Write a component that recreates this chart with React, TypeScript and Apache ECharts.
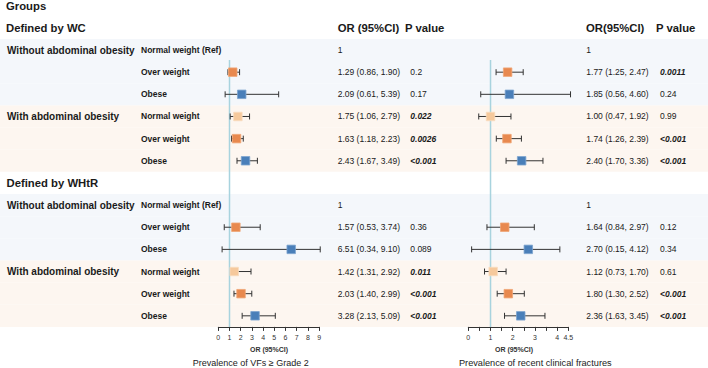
import React, { useEffect, useRef } from "react";
import * as echarts from "echarts";

const FONT = "'Liberation Sans', Arial, Helvetica, sans-serif";

// ---- data ----
const sections = ["Defined by WC", "Defined by WHtR"];
const groups = ["Without abdominal obesity", "With abdominal obesity"];
const categories = ["Normal weight (Ref)", "Over weight", "Obese", "Normal weight", "Over weight", "Obese"];

// Prevalence of VFs >= Grade 2
const vfOR = [1, 1.29, 2.09, 1.75, 1.63, 2.43, 1, 1.57, 6.51, 1.42, 2.03, 3.28];
const vfLow = [null, 0.86, 0.61, 1.06, 1.18, 1.67, null, 0.53, 0.34, 1.31, 1.4, 2.13];
const vfHigh = [null, 1.9, 5.39, 2.79, 2.23, 3.49, null, 3.74, 9.1, 2.92, 2.99, 5.09];
const vfP = ["", "0.2", "0.17", "0.022", "0.0026", "<0.001", "", "0.36", "0.089", "0.011", "<0.001", "<0.001"];

// Prevalence of recent clinical fractures
const frOR = [1, 1.77, 1.85, 1.0, 1.74, 2.4, 1, 1.64, 2.7, 1.12, 1.8, 2.36];
const frLow = [null, 1.25, 0.56, 0.47, 1.26, 1.7, null, 0.84, 0.15, 0.73, 1.3, 1.63];
const frHigh = [null, 2.47, 4.6, 1.92, 2.39, 3.36, null, 2.97, 4.12, 1.7, 2.52, 3.45];
const frP = ["", "0.0011", "0.24", "0.99", "<0.001", "<0.001", "", "0.12", "0.34", "0.61", "<0.001", "<0.001"];

const vfTicks = [0, 1, 2, 3, 4, 5, 6, 7, 8, 9];
const frTickLabels = [0, 1, 2, 3, 4, 4.5];

const vfTitle = "Prevalence of VFs \u2265 Grade 2";
const frTitle = "Prevalence of recent clinical fractures";
const axisTitle = "OR (95%CI)";

// ---- styles ----
const catColors = ["#f6c99c", "#e8894f", "#4a7fb9"];
const catStroke = ["#f9dcbf", "#f0a676", "#7ea4cf"];
const bandColors = ["#f4f7fb", "#fdf6f0"];
const refColor = "#a8d3de";
const textColor = "#1a1a1a";

const rowOf = (i: number) => 1 + Math.floor(i / 6) * 7 + (i % 6);
const isSig = (p: string) => p !== "" && (p.startsWith("<") || parseFloat(p) < 0.05);
const fmtOR = (o: number, l: number | null, h: number | null) =>
  l == null || h == null ? "1" : `${o.toFixed(2)} (${l.toFixed(2)}, ${h.toFixed(2)})`;

type TItem = { x: number; k: number; text: string; size: number; bold: boolean; italic: boolean };
const textItems: TItem[] = [];
const addT = (x: number, k: number, text: string, size: number, bold = false, italic = false) =>
  textItems.push({ x, k, text, size, bold, italic });

addT(6, 0, sections[0], 11.3, true);
addT(337.7, 0, "OR (95%CI)", 11.3, true);
addT(405, 0, "P value", 11.3, true);
addT(586, 0, "OR(95%CI)", 11.3, true);
addT(656, 0, "P value", 11.3, true);
addT(6.5, 7, sections[1], 11.3, true);
for (let s = 0; s < 2; s++) {
  addT(7, 1 + s * 7, groups[0], 10, true);
  addT(7, 4 + s * 7, groups[1], 10, true);
}
for (let i = 0; i < 12; i++) {
  const k = rowOf(i);
  addT(141, k, categories[i % 6], 8.5, true);
  addT(337.7, k, fmtOR(vfOR[i], vfLow[i], vfHigh[i]), 8.5);
  if (vfP[i]) addT(410.3, k, vfP[i], 8.5, isSig(vfP[i]), isSig(vfP[i]));
  addT(586.3, k, fmtOR(frOR[i], frLow[i], frHigh[i]), 8.5);
  if (frP[i]) addT(660, k, frP[i], 8.5, isSig(frP[i]), isSig(frP[i]));
}

const bandData: number[][] = [];
for (let i = 0; i < 12; i++) bandData.push([0, rowOf(i), (i % 6) < 3 ? 0 : 1]);

const forestData = (or: number[], lo: (number | null)[], hi: (number | null)[]) => {
  const out: number[][] = [];
  for (let i = 0; i < or.length; i++) {
    if (lo[i] == null || hi[i] == null) continue;
    out.push([or[i], rowOf(i), lo[i] as number, hi[i] as number, i % 3]);
  }
  return out;
};

const forestRender = (params: any, api: any) => {
  const or = api.value(0), k = api.value(1), lo = api.value(2), hi = api.value(3), cat = api.value(4);
  const c = api.coord([or, k]);
  const l = api.coord([lo, k]);
  const h = api.coord([hi, k]);
  const ls = { stroke: "#333333", lineWidth: 1 };
  const sz = 8.5;
  return {
    type: "group",
    children: [
      { type: "line", shape: { x1: l[0], y1: l[1], x2: h[0], y2: h[1] }, style: ls },
      { type: "line", shape: { x1: l[0], y1: l[1] - 3, x2: l[0], y2: l[1] + 3 }, style: ls },
      { type: "line", shape: { x1: h[0], y1: h[1] - 3, x2: h[0], y2: h[1] + 3 }, style: ls },
      {
        type: "rect",
        shape: { x: c[0] - sz / 2, y: c[1] - sz / 2, width: sz, height: sz },
        style: { fill: catColors[cat], stroke: catStroke[cat], lineWidth: 0.8 },
      },
    ],
  };
};

const refRender = (params: any, api: any) => {
  const a = api.coord([api.value(0), api.value(1)]);
  const b = api.coord([api.value(0), api.value(2)]);
  return { type: "line", shape: { x1: a[0], y1: a[1], x2: b[0], y2: b[1] }, style: { stroke: refColor, lineWidth: 1.5 } };
};

export default function App() {
  const ref = useRef<HTMLDivElement>(null);
  useEffect(() => {
    if (!ref.current) return;
    const chart = echarts.init(ref.current, undefined, { renderer: "svg" });
    const top = 16.8;
    const height = 310.1;
    const yAx = (g: number) => ({ gridIndex: g, type: "value", min: -0.5, max: 13.5, inverse: true, show: false });
    const xCommon = {
      type: "value",
      splitLine: { show: false },
      axisLine: { show: true, onZero: false, lineStyle: { color: "#333", width: 1 } },
      axisTick: { show: true, length: 4, lineStyle: { color: "#333" } },
    };
    chart.setOption({
      animation: false,
      backgroundColor: "#ffffff",
      grid: [
        { left: 0, width: 708, top, height },
        { left: 218.3, width: 100.8, top, height },
        { left: 468.3, width: 100, top, height },
      ],
      xAxis: [
        { gridIndex: 0, type: "value", min: 0, max: 708, show: false },
        {
          ...xCommon,
          gridIndex: 1,
          min: 0,
          max: 9,
          interval: 1,
          axisLabel: { fontSize: 7, color: "#333", margin: 7, fontFamily: FONT, formatter: (v: number) => (vfTicks.includes(v) ? String(v) : "") },
        },
        {
          ...xCommon,
          gridIndex: 2,
          min: 0,
          max: 4.5,
          interval: 0.5,
          axisLabel: { fontSize: 7, color: "#333", margin: 7, fontFamily: FONT, formatter: (v: number) => (frTickLabels.includes(v) ? String(v) : "") },
        },
      ],
      yAxis: [yAx(0), yAx(1), yAx(2)],
      series: [
        {
          type: "custom",
          xAxisIndex: 0,
          yAxisIndex: 0,
          z: 0,
          silent: true,
          data: bandData,
          encode: { x: 0, y: 1 },
          renderItem: (params: any, api: any) => {
            const k = api.value(1);
            const a = api.coord([0, k - 0.5]);
            const b = api.coord([708, k + 0.5]);
            return {
              type: "rect",
              shape: { x: a[0], y: a[1], width: b[0] - a[0], height: b[1] - a[1] },
              style: { fill: bandColors[api.value(2)] },
            };
          },
        },
        {
          type: "custom",
          xAxisIndex: 0,
          yAxisIndex: 0,
          z: 3,
          silent: true,
          data: textItems.map((t) => [t.x, t.k]),
          encode: { x: 0, y: 1 },
          renderItem: (params: any, api: any) => {
            const t = textItems[params.dataIndex];
            const p = api.coord([api.value(0), api.value(1)]);
            return {
              type: "text",
              x: p[0],
              y: p[1],
              style: {
                text: t.text,
                fill: textColor,
                font: `${t.italic ? "italic " : ""}${t.bold ? "bold " : ""}${t.size}px ${FONT}`,
                align: "left",
                verticalAlign: "middle",
              },
            };
          },
        },
        { type: "custom", xAxisIndex: 1, yAxisIndex: 1, z: 2, silent: true, data: [[1, 1.45, 13.5]], encode: { x: 0, y: 1 }, renderItem: refRender },
        { type: "custom", xAxisIndex: 2, yAxisIndex: 2, z: 2, silent: true, data: [[1, 1.45, 13.5]], encode: { x: 0, y: 1 }, renderItem: refRender },
        { type: "custom", xAxisIndex: 1, yAxisIndex: 1, z: 4, silent: true, clip: false, data: forestData(vfOR, vfLow, vfHigh), encode: { x: [0, 2, 3], y: 1 }, renderItem: forestRender },
        { type: "custom", xAxisIndex: 2, yAxisIndex: 2, z: 4, silent: true, clip: false, data: forestData(frOR, frLow, frHigh), encode: { x: [0, 2, 3], y: 1 }, renderItem: forestRender },
      ],
      graphic: [
        { type: "text", x: 6, y: 6, style: { text: "Groups", fill: textColor, font: `bold 11.3px ${FONT}`, align: "left", verticalAlign: "middle" } },
        { type: "text", x: 269, y: 349, style: { text: axisTitle, fill: "#333", font: `bold 7px ${FONT}`, align: "center", verticalAlign: "middle" } },
        { type: "text", x: 514, y: 349, style: { text: axisTitle, fill: "#333", font: `bold 7px ${FONT}`, align: "center", verticalAlign: "middle" } },
        { type: "text", x: 250.8, y: 363, style: { text: vfTitle, fill: "#222", font: `9px ${FONT}`, align: "center", verticalAlign: "middle" } },
        { type: "text", x: 535.3, y: 363.3, style: { text: frTitle, fill: "#222", font: `9.2px ${FONT}`, align: "center", verticalAlign: "middle" } },
      ],
    });
    return () => chart.dispose();
  }, []);
  return <div ref={ref} style={{ position: "absolute", left: 0, top: 0, width: 708, height: 368 }} />;
}
